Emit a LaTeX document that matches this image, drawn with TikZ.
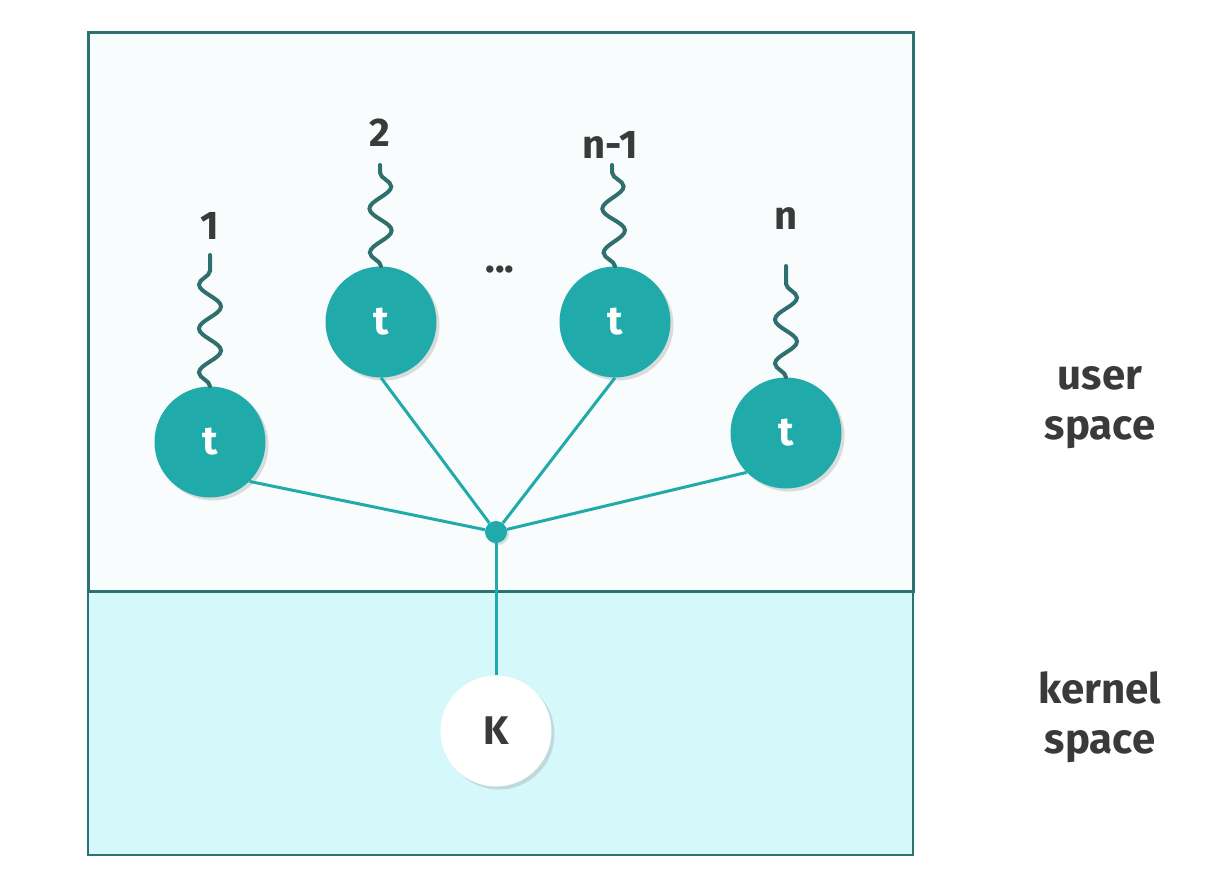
\documentclass[tikz,border=0pt]{standalone}
\usepackage{fontspec}
\setmainfont{Fira Sans}
\usetikzlibrary{shadows,decorations.pathmorphing}
\definecolor{teal1}{HTML}{21AAAA}
\definecolor{boxline}{HTML}{2B7371}
\definecolor{wavec}{HTML}{2F6F6D}
\definecolor{txt}{HTML}{3A3A3A}
\definecolor{userfill}{HTML}{F8FCFC}
\definecolor{kernfill}{HTML}{D5F8FB}
\begin{document}
\begin{tikzpicture}[x=1pt,y=-1pt,
  thread/.style={circle,fill=teal1,minimum size=111pt,inner sep=0pt,text=white,
    font=\fontsize{40}{44}\selectfont\bfseries,
    drop shadow={opacity=0.25,shadow xshift=3pt,shadow yshift=-3pt}},
  kern/.style={circle,fill=white,minimum size=111pt,inner sep=0pt,text=txt,
    font=\fontsize{40}{44}\selectfont\bfseries,
    drop shadow={opacity=0.25,shadow xshift=3pt,shadow yshift=-3pt}},
  lab/.style={text=txt,font=\fontsize{40}{44}\selectfont\bfseries,inner sep=0pt},
  side/.style={text=txt,font=\fontsize{42}{50}\selectfont\bfseries,align=center,inner sep=0pt},
  conn/.style={draw=teal1,line width=3pt},
  wave/.style={draw=wavec,line width=4pt,line cap=round,decorate,
    decoration={snake,amplitude=11pt,segment length=44pt}}]
\useasboundingbox (0,0) rectangle (1229,890);
\fill[white] (0,0) rectangle (1229,890);
% boxes
\draw[fill=kernfill,draw=boxline,line width=2pt] (88,591) rectangle (913,855);
\draw[fill=userfill,draw=boxline,line width=3pt] (88,33) rectangle (913,591);
% nodes
\node[thread] (t1) at (210,442) {t};
\node[thread] (t2) at (381,322) {t};
\node[thread] (t3) at (615,322) {t};
\node[thread] (t4) at (786,433) {t};
\node[circle,fill=teal1,minimum size=22pt,inner sep=0pt,
  drop shadow={opacity=0.25,shadow xshift=2pt,shadow yshift=-2pt}] (hub) at (496,532) {};
\node[kern] (K) at (496,731) {K};
% labels
\node[lab] (l1) at (210,226) {1};
\node[lab] (l2) at (380,133) {2};
\node[lab] (l3) at (610,145) {n-1};
\node[lab] (l4) at (786,219) {n};
\node[lab] (dots) at (500,270) {...};
\node[side] (us) at (1100,408) {user\\space};
\node[side] (ks) at (1100,717) {kernel\\space};
% wave tops
\coordinate (w1) at (210,255);
\coordinate (w2) at (380,165);
\coordinate (w3) at (612,165);
\coordinate (w4) at (786,266);
% connectors
\draw[conn] (hub) -- (t1.south east);
\draw[conn] (hub) -- (t2.south);
\draw[conn] (hub) -- (t3.south);
\draw[conn] (hub) -- (t4.south west);
\draw[conn] (hub) -- (K.north);
\draw[wave] (t1.north) -- (w1);
\draw[wave] (t2.north) -- (w2);
\draw[wave] (t3.north) -- (w3);
\draw[wave] (t4.north) -- (w4);
\end{tikzpicture}
\end{document}
